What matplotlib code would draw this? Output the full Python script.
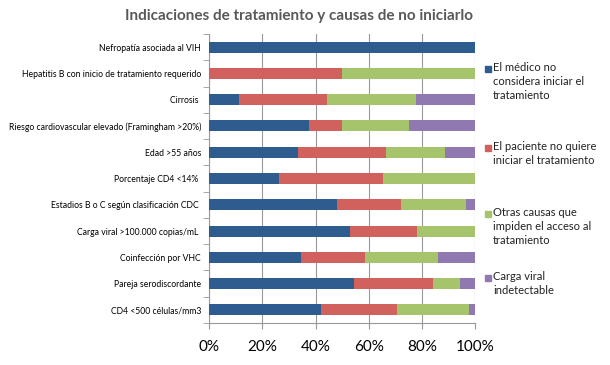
import numpy as np
import matplotlib.pyplot as plt
from matplotlib.patches import Rectangle

plt.rcParams['font.family'] = ['Lato', 'DejaVu Sans']

categorias = ['Nefropatía asociada al VIH',
              'Hepatitis B con inicio de tratamiento requerido',
              'Cirrosis ',
              'Riesgo cardiovascular elevado (Framingham >20%)',
              'Edad >55 años',
              'Porcentaje CD4 <14% ',
              'Estadios B o C según clasificación CDC ',
              'Carga viral >100.000 copias/mL ',
              'Coinfección por VHC',
              'Pareja serodiscordante',
              'CD4 <500 células/mm3']

medico = [100, 0, 11.1, 37.5, 33.3, 26.1, 48.1, 53.0, 34.5, 54.5, 42.1]
paciente = [0, 50, 33.3, 12.5, 33.3, 39.1, 24.0, 25.3, 24.0, 29.7, 28.5]
otras = [0, 50, 33.3, 25.0, 22.2, 34.8, 24.4, 21.7, 27.4, 10.0, 27.1]
indetectable = [0, 0, 22.2, 25.0, 11.1, 0, 3.5, 0, 14.1, 5.8, 2.3]

series = ['El médico no\nconsidera iniciar el\ntratamiento',
          'El paciente no quiere\niniciar el tratamiento',
          'Otras causas que\nimpiden el acceso al\ntratamiento',
          'Carga viral\nindetectable']
colores = ['#2E5C8E', '#D0615C', '#A6C46C', '#9079B0']

W, H = 610, 365
fig = plt.figure(figsize=(6.1, 3.65), dpi=100)
ax = fig.add_axes([0.343, 0.115, 0.436, 0.792])

y = np.arange(len(categorias))
izq = np.zeros(len(categorias))
for vals, nombre, c in zip([medico, paciente, otras, indetectable], series, colores):
    ax.barh(y, vals, left=izq, height=0.42, color=c, label=nombre, zorder=3)
    izq = izq + np.array(vals)

ax.set_xlim(0, 100)
ax.set_ylim(len(categorias) - 0.5, -0.5)
ax.set_xticks([0, 20, 40, 60, 80, 100])
ax.set_xticklabels(['0%', '20%', '40%', '60%', '80%', '100%'], fontsize=11)
ax.set_yticks(y)
ax.set_yticklabels(categorias, fontsize=6.2)
ax.tick_params(axis='y', length=0, pad=6)
ax.set_yticks(np.arange(len(categorias) + 1) - 0.5, minor=True)
ax.tick_params(axis='y', which='minor', length=4, color='#999999')
ax.tick_params(axis='x', length=4, color='#999999', pad=8)
ax.xaxis.grid(True, color='#999999', linewidth=0.8, zorder=0)
for s in ['top', 'right']:
    ax.spines[s].set_visible(False)
for s in ['left', 'bottom']:
    ax.spines[s].set_color('#999999')

fig.suptitle('Indicaciones de tratamiento y causas de no iniciarlo',
             fontsize=11, fontweight='bold', color='#595959', x=0.49, y=0.975)

# leyenda a mano: cuadrado alineado con la primera linea del texto
filas_px = [69, 148, 214, 278]
for nombre, c, py in zip(series, colores, filas_px):
    fig.patches.append(Rectangle((485 / W, 1 - (py + 3) / H), 6 / W, 6 / H,
                                 transform=fig.transFigure, color=c))
    fig.text(493 / W, 1 - (py - 7) / H, nombre, fontsize=8, va='top',
             ha='left', linespacing=1.35, color='#222222')

fig.savefig('out.png', dpi=100)
